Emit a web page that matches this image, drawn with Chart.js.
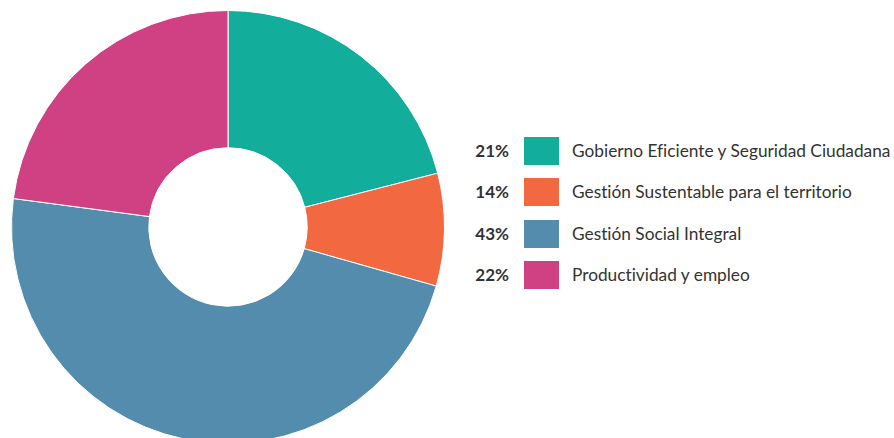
<!DOCTYPE html>
<html>
<head>
<meta charset="utf-8">
<script src="https://cdn.jsdelivr.net/npm/chart.js@4"></script>
<style>
    html, body { margin: 0; padding: 0; background: #fff; }
    body { width: 894px; height: 438px; position: relative; overflow: hidden; font-family: Lato, sans-serif; }
    #chartBox { position: absolute; left: 11px; top: 10px; width: 434px; height: 434px; }
    #legend { position: absolute; left: 470px; top: 137px; }
    .row { position: relative; height: 41.3px; }
    .pct { position: absolute; left: 0; top: 0; width: 39px; height: 28px; line-height: 28px; text-align: right; font-weight: bold; font-size: 17px; color: #333; }
    .box { position: absolute; left: 54px; top: 0; width: 35px; height: 28px; }
    .lbl { position: absolute; left: 102px; top: 0; height: 28px; line-height: 28px; font-size: 17.3px; color: #333; white-space: nowrap; font-variant-ligatures: none; }
</style>
</head>
<body>
<div id="chartBox"><canvas id="donut"></canvas></div>
<div id="legend"></div>
<script>
const categories = [
    'Gobierno Eficiente y Seguridad Ciudadana',
    'Gestión Sustentable para el territorio',
    'Gestión Social Integral',
    'Productividad y empleo'
];
// slice sizes as drawn in the picture
const sliceValues = [21, 8.4, 47.7, 22.9];
// percentages printed in the legend
const legendPercents = ['21%', '14%', '43%', '22%'];
const colors = ['#13AE9B', '#F26841', '#548CAD', '#D04183'];

const legend = document.getElementById('legend');
categories.forEach((name, i) => {
    const row = document.createElement('div');
    row.className = 'row';
    row.innerHTML = '<div class="pct">' + legendPercents[i] + '</div>' +
        '<div class="box" style="background:' + colors[i] + '"></div>' +
        '<div class="lbl">' + name + '</div>';
    legend.appendChild(row);
});

new Chart(document.getElementById('donut'), {
    type: 'doughnut',
    data: {
        labels: categories,
        datasets: [{
            data: sliceValues,
            backgroundColor: colors,
            borderColor: '#ffffff',
            borderWidth: 1
        }]
    },
    options: {
        responsive: true,
        maintainAspectRatio: false,
        animation: false,
        cutout: '36.6%',
        layout: { padding: 0 },
        plugins: {
            legend: { display: false },
            tooltip: { enabled: false }
        }
    }
});
</script>
</body>
</html>
